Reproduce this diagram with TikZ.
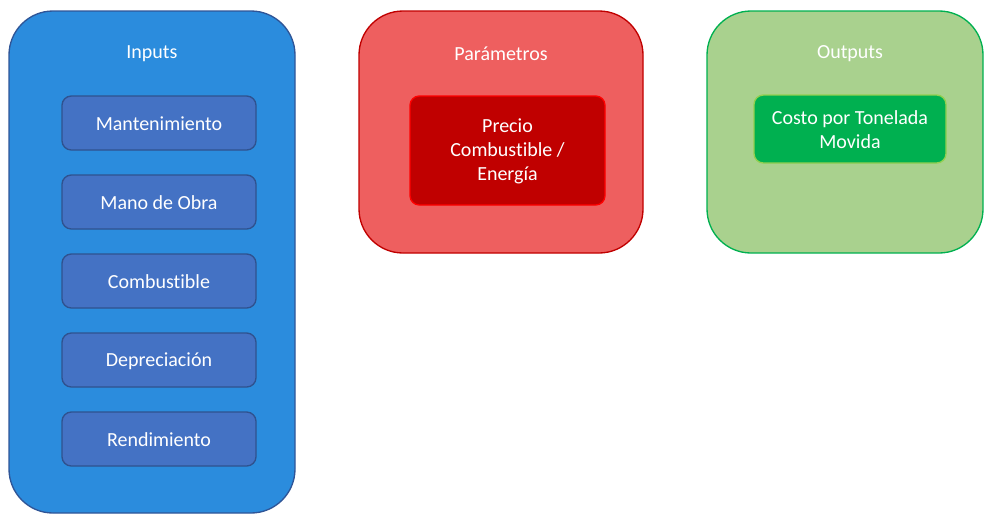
\documentclass[tikz,border=0pt]{standalone}
\usepackage{fontspec}
\setmainfont[Ligatures={NoCommon}]{Carlito}
\definecolor{inbig}{HTML}{2B8CDD}
\definecolor{inbigd}{HTML}{2F5597}
\definecolor{insm}{HTML}{4472C4}
\definecolor{insmd}{HTML}{2F528F}
\definecolor{parbig}{HTML}{EE5F5F}
\definecolor{parbigd}{HTML}{C00000}
\definecolor{parsm}{HTML}{C00000}
\definecolor{parsmd}{HTML}{FF0000}
\definecolor{outbig}{HTML}{A9D18E}
\definecolor{outbigd}{HTML}{00B050}
\definecolor{outsm}{HTML}{00B050}
\definecolor{outsmd}{HTML}{92D050}
\begin{document}
\begin{tikzpicture}[x=0.75pt,y=-0.75pt,
  bigbox/.style={rounded corners=33pt,line width=1pt},
  smallbox/.style={rounded corners=7pt,line width=1pt},
  lbl/.style={text=white,font=\fontsize{15}{18}\selectfont,align=center}]
\useasboundingbox (0,0) rectangle (984,515);
% Inputs
\draw[bigbox,fill=inbig,draw=inbigd] (9,11) rectangle (295,513);
\node[lbl] (tin) at (152,54) {Inputs};
\foreach \n/\t/\b/\txt in {m1/96/150/Mantenimiento,m2/175/229/Mano de Obra,m3/254/308/Combustible,m4/333/387/Depreciación,m5/412/466/Rendimiento}{
  \draw[smallbox,fill=insm,draw=insmd] (62,\t) rectangle (256,\b);
  \node[lbl] (\n) at (159,{(\t+\b)/2+1}) {\txt};
}
% Parametros
\draw[bigbox,fill=parbig,draw=parbigd] (359,11) rectangle (643,253);
\node[lbl] (tpar) at (501,54) {Parámetros};
\draw[smallbox,fill=parsm,draw=parsmd] (410,96) rectangle (605,205);
\node[lbl] (p1) at (507.5,151) {Precio\\Combustible /\\Energía};
% Outputs
\draw[bigbox,fill=outbig,draw=outbigd] (707,11) rectangle (983,253);
\node[lbl] (tout) at (850,54) {Outputs};
\draw[smallbox,fill=outsm,draw=outsmd] (754,95) rectangle (946,163);
\node[lbl] (o1) at (850,130) {Costo por Tonelada\\Movida};
\end{tikzpicture}
\end{document}
